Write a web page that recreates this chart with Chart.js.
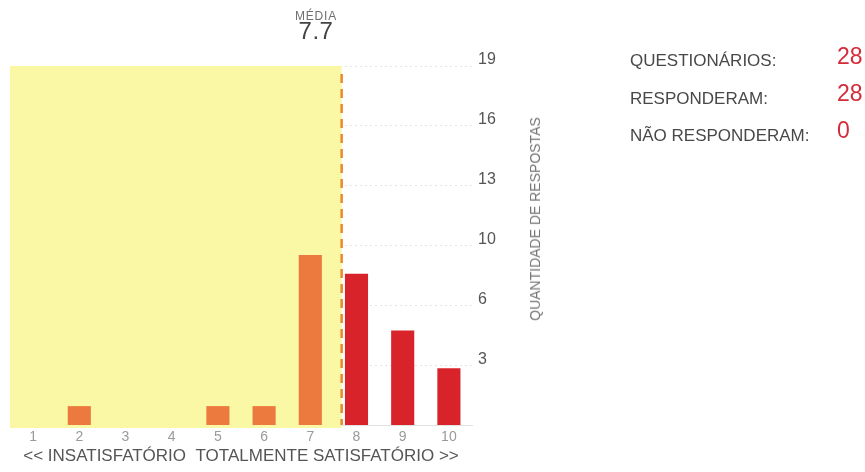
<!DOCTYPE html>
<html>
<head>
<meta charset="utf-8">
<script src="https://cdn.jsdelivr.net/npm/chart.js@4"></script>
<style>
  html, body { margin: 0; padding: 0; background: #ffffff; }
  body { width: 865px; height: 472px; position: relative; overflow: hidden;
         font-family: "Liberation Sans", Arial, Helvetica, sans-serif; }
  #wrap { position: absolute; left: 0; top: 0; width: 865px; height: 472px; }
  .t { position: absolute; white-space: nowrap; line-height: 1; }
  #mediaLbl { left: 266px; width: 100px; text-align: center; top: 10px; font-size: 12px; letter-spacing: 0.8px; color: #707070; }
  #mediaVal { left: 266px; width: 100px; text-align: center; top: 19px; font-size: 24px; color: #444; letter-spacing: 0.5px; }
  #yTitle { left: 535px; top: 219px; font-size: 14px; color: #777;
            transform: translate(-50%, -50%) rotate(-90deg); }
  .lbl { left: 630px; font-size: 17px; color: #484848; }
  .val { left: 837px; font-size: 23px; color: #d42a3a; }
</style>
</head>
<body>
<div id="wrap"><canvas id="c" width="865" height="472"></canvas></div>
<div class="t" id="mediaLbl">MÉDIA</div>
<div class="t" id="mediaVal"></div>
<div class="t" id="yTitle">QUANTIDADE DE RESPOSTAS</div>
<div class="t lbl" style="top:52px">QUESTIONÁRIOS:</div>
<div class="t lbl" style="top:90px">RESPONDERAM:</div>
<div class="t lbl" style="top:127px">NÃO RESPONDERAM:</div>
<div class="t val" id="vQ" style="top:45px"></div>
<div class="t val" id="vR" style="top:82px"></div>
<div class="t val" id="vN" style="top:119px"></div>
<script>
// ---- data ----
const categories = ['1', '2', '3', '4', '5', '6', '7', '8', '9', '10'];
const counts = [0, 1, 0, 0, 1, 1, 9, 8, 5, 3];
const yTickLabels = [3, 6, 10, 13, 16, 19];
const yMax = 19;
const totalQuestionarios = 28;
const responderam = 28;
const naoResponderam = 0;
const xTitle = '<< INSATISFATÓRIO  TOTALMENTE SATISFATÓRIO >>';

// mean score
const sumCounts = counts.reduce((a, b) => a + b, 0);
const mean = counts.reduce((a, c, i) => a + c * Number(categories[i]), 0) / sumCounts;

document.getElementById('mediaVal').textContent = mean.toFixed(1);
document.getElementById('vQ').textContent = totalQuestionarios;
document.getElementById('vR').textContent = responderam;
document.getElementById('vN').textContent = naoResponderam;

const FONT = '"Liberation Sans", Arial, Helvetica, sans-serif';

const mediaPlugin = {
  id: 'mediaPlugin',
  beforeDatasetsDraw(chart) {
    const { ctx, chartArea, scales } = chart;
    const xm = scales.x.getPixelForValue(mean - 1);
    ctx.save();
    ctx.fillStyle = '#faf8a4';
    ctx.fillRect(chartArea.left, chartArea.top, xm - chartArea.left, chartArea.bottom - chartArea.top + 3);
    ctx.restore();
  },
  afterDatasetsDraw(chart) {
    const { ctx, chartArea, scales } = chart;
    const xm = scales.x.getPixelForValue(mean - 1);
    ctx.save();
    ctx.strokeStyle = '#eb8a2a';
    ctx.lineWidth = 2.5;
    ctx.setLineDash([9, 6]);
    ctx.beginPath();
    ctx.moveTo(xm, chartArea.top + 8);
    ctx.lineTo(xm, chartArea.bottom);
    ctx.stroke();
    ctx.restore();
  }
};

new Chart(document.getElementById('c'), {
  type: 'bar',
  data: {
    labels: categories,
    datasets: [{
      data: counts,
      backgroundColor: categories.map(c => Number(c) < mean ? '#ec7a3e' : '#d8232b'),
      barPercentage: 0.5,
      categoryPercentage: 1.0,
      borderWidth: 0
    }]
  },
  options: {
    responsive: false,
    animation: false,
    layout: { padding: { left: 10, right: 353, top: 66, bottom: 0 } },
    plugins: { legend: { display: false }, tooltip: { enabled: false } },
    scales: {
      x: {
        afterFit(scale) { scale.height = 47; },
        grid: { display: false, drawTicks: false },
        border: { display: true, color: '#e2e2e2' },
        ticks: { color: '#9a9a9a', font: { family: FONT, size: 14 }, padding: 4, maxRotation: 0 },
        title: { display: true, text: xTitle, color: '#555555',
                 font: { family: FONT, size: 17 }, padding: { top: 0, bottom: 5 } }
      },
      y: {
        position: 'right',
        min: 0,
        max: yMax,
        afterBuildTicks(scale) {
          scale.ticks = yTickLabels.map((v, i) => ({ value: yMax * (i + 1) / yTickLabels.length }));
        },
        afterFit(scale) { scale.width = 40; },
        grid: { color: '#e4e4e4', drawTicks: false, lineWidth: 1 },
        border: { display: false, dash: [2, 3] },
        ticks: {
          color: '#555555',
          font: { family: FONT, size: 16 },
          padding: 6,
          labelOffset: -6,
          callback: (v, i) => yTickLabels[i]
        }
      }
    }
  },
  plugins: [mediaPlugin]
});
</script>
</body>
</html>
